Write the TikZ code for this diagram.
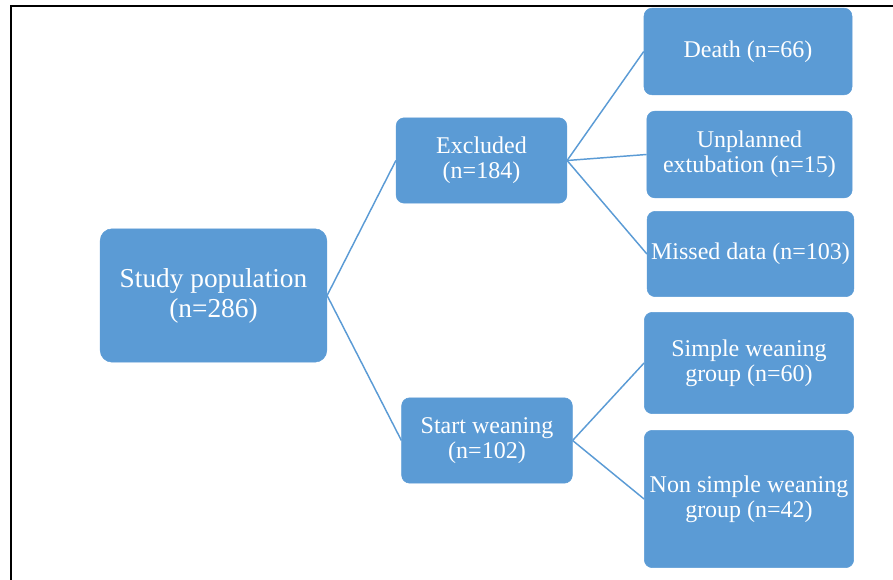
\documentclass[tikz,border=0pt]{standalone}
\usepackage{fontspec}
\setmainfont{Liberation Serif}
\definecolor{boxblue}{RGB}{91,155,213}
\begin{document}
\begin{tikzpicture}[x=0.75pt,y=-0.75pt,
	box/.style={fill=boxblue,draw=boxblue,rounded corners=6pt,text=white,align=center,font=\fontsize{18}{19}\selectfont,inner sep=2pt},
	conn/.style={draw=boxblue,line width=1.1pt}]
	\useasboundingbox (0,0) rectangle (893,580);
	% cadre
	\draw[line width=2pt] (11,580) -- (11,6) -- (893,6);
	% noeuds
	\node[box,minimum width=170pt,minimum height=100pt,rounded corners=9pt,font=\fontsize{20.5}{22.5}\selectfont] (pop) at (213.5,295.5) {Study population\\(n=286)};
	\node[box,minimum width=128pt,minimum height=64pt] (excl) at (481.5,160.5) {Excluded\\(n=184)};
	\node[box,minimum width=128pt,minimum height=64pt] (start) at (487,440.5) {Start weaning\\(n=102)};
	\node[box,minimum width=156pt,minimum height=65pt] (death) at (748,51.5) {Death (n=66)};
	\node[box,minimum width=154pt,minimum height=65pt] (unpl) at (749.5,154.5) {Unplanned\\extubation (n=15)};
	\node[box,minimum width=155pt,minimum height=64pt] (miss) at (750.5,254) {Missed data (n=103)};
	\node[box,minimum width=157pt,minimum height=76pt] (simple) at (749,363) {Simple weaning\\group (n=60)};
	\node[box,minimum width=157pt,minimum height=103pt] (nonsimple) at (749,499) {Non simple weaning\\group (n=42)};
	% liens
	\draw[conn] (pop.east) -- (excl.west);
	\draw[conn] (pop.east) -- (start.west);
	\foreach \t in {death,unpl,miss}
		\draw[conn] (excl.east) -- (\t.west);
	\foreach \t in {simple,nonsimple}
		\draw[conn] (start.east) -- (\t.west);
\end{tikzpicture}
\end{document}
